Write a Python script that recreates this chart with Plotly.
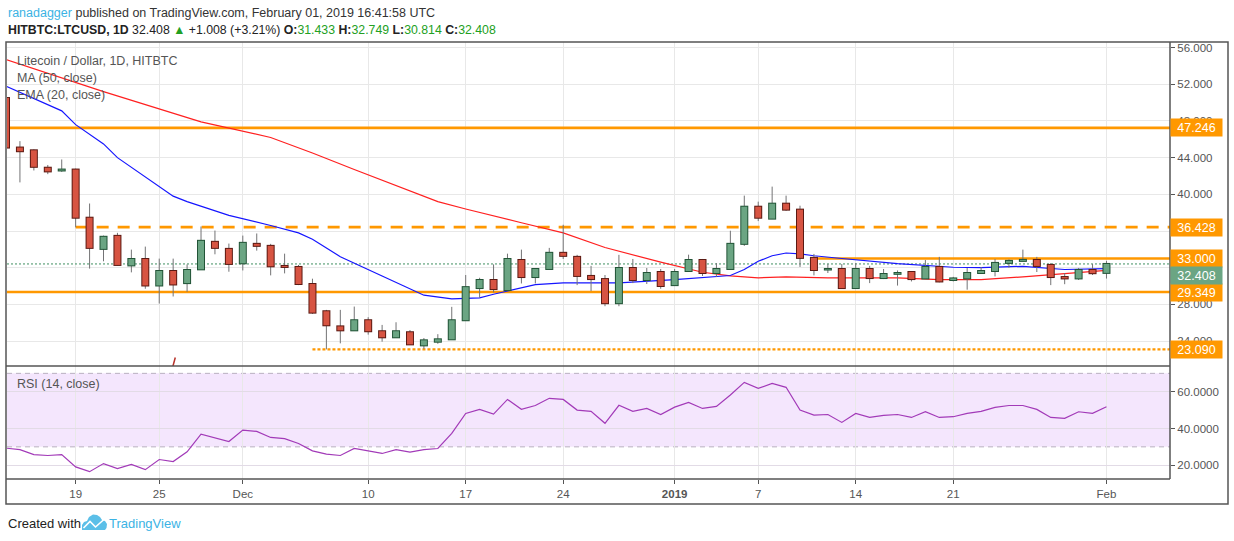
import pandas as pd
import plotly.graph_objects as go
from plotly.subplots import make_subplots

# ---------------- data ----------------
DATES = pd.date_range("2018-11-14", "2019-02-01", freq="D").strftime("%Y-%m-%d").tolist()

OPEN = [50.5, 45.1, 44.8, 42.9, 42.6, 42.7, 37.45, 34.05, 35.47, 32.25,
        32.95, 30.06, 31.64, 30.32, 31.82, 34.82, 34.05, 32.48, 34.6, 34.38,
        32.19, 32.08, 30.22, 27.25, 25.6, 25.17, 26.27, 25.07, 24.41, 24.96,
        23.53, 23.93, 24.19, 26.27, 29.78, 30.66, 29.56, 32.84, 30.98, 31.86,
        33.62, 33.18, 31.1, 30.76, 28.13, 31.97, 30.66, 31.53, 30.1, 31.64,
        32.84, 31.42, 31.86, 34.6, 38.65, 37.35, 38.98, 38.33, 33.07, 31.8,
        31.86, 29.78, 31.86, 30.87, 31.33, 31.53, 30.83, 32.08, 30.66, 30.83,
        31.42, 31.64, 32.52, 32.74, 32.84, 32.3, 30.98, 30.83, 31.75, 31.433]
HIGH = [50.6, 45.8, 44.9, 43.2, 43.8, 42.8, 39.0, 35.5, 35.8, 33.97,
        34.3, 32.99, 32.99, 32.36, 36.49, 36.05, 34.63, 35.5, 35.73, 34.6,
        33.53, 32.3, 30.8, 27.4, 27.4, 27.76, 26.6, 25.76, 26.05, 25.2,
        24.33, 24.75, 27.73, 31.2, 30.9, 32.36, 33.53, 33.97, 31.95, 34.16,
        36.68, 33.4, 32.2, 31.2, 33.4, 32.95, 31.97, 31.86, 31.86, 33.42,
        32.95, 32.5, 36.03, 39.86, 39.2, 40.84, 39.86, 38.76, 33.5, 32.4,
        32.4, 32.5, 32.2, 31.86, 31.7, 31.55, 32.84, 33.18, 31.0, 31.97,
        32.08, 32.95, 32.9, 33.97, 33.18, 32.5, 31.42, 31.97, 32.4, 32.749]
LOW = [44.6, 41.3, 42.6, 42.2, 42.45, 36.4, 31.9, 32.7, 32.25, 31.49,
       29.7, 28.09, 28.86, 29.37, 31.75, 33.46, 31.56, 31.7, 33.86, 31.16,
       31.38, 30.1, 26.96, 23.09, 23.75, 25.1, 24.7, 23.93, 24.35, 23.6,
       23.15, 23.7, 24.15, 26.2, 28.75, 29.3, 29.5, 30.28, 30.28, 31.8,
       32.95, 30.1, 29.45, 27.8, 27.8, 30.32, 30.22, 29.7, 30.0, 31.53,
       31.1, 30.98, 31.8, 34.38, 37.08, 37.3, 38.2, 32.08, 31.16, 31.42,
       29.7, 29.7, 30.32, 30.76, 30.05, 30.5, 30.8, 30.4, 30.5, 29.6,
       31.31, 31.05, 32.0, 32.7, 31.53, 30.1, 30.2, 30.66, 31.2, 30.814]
CLOSE = [45.1, 44.7, 43.0, 42.5, 42.7, 37.45, 34.16, 35.37, 32.3, 32.95,
         30.06, 31.64, 30.17, 31.75, 34.93, 34.16, 32.41, 34.71, 34.38, 32.15,
         32.08, 30.22, 27.1, 25.72, 25.17, 26.27, 25.07, 24.41, 25.07, 23.64,
         24.08, 24.19, 26.27, 29.88, 30.66, 29.67, 32.95, 30.98, 31.86, 33.62,
         33.29, 31.1, 30.76, 28.13, 31.97, 30.66, 31.42, 30.0, 31.53, 32.84,
         31.42, 31.86, 34.6, 38.65, 37.45, 38.98, 38.33, 33.07, 31.75, 31.86,
         29.78, 31.86, 30.87, 31.31, 31.42, 30.76, 32.08, 30.5, 30.83, 31.42,
         31.64, 32.52, 32.74, 32.85, 32.19, 30.98, 30.83, 31.75, 31.40, 32.408]

RSI = [29.3, 28.5, 25.8, 25.3, 25.8, 19.1, 16.5, 20.9, 18.2, 20.4,
       17.6, 23.1, 22.0, 27.3, 36.9, 35.1, 32.9, 39.1, 38.4, 35.1,
       34.5, 31.8, 27.8, 26.0, 25.3, 29.1, 27.6, 26.4, 28.5, 27.1,
       28.5, 29.1, 37.3, 48.2, 50.4, 47.8, 55.8, 50.4, 52.5, 56.4,
       55.8, 50.0, 49.3, 42.8, 52.6, 49.3, 50.9, 47.6, 51.6, 54.2,
       50.9, 52.0, 58.2, 65.1, 61.8, 64.5, 62.4, 50.0, 47.3, 47.6,
       43.3, 48.2, 46.0, 47.1, 47.6, 46.0, 49.1, 46.0, 46.4, 48.2,
       49.3, 51.5, 52.5, 52.5, 50.4, 46.0, 45.5, 49.1, 48.2, 51.8]

MA50_DATES = ["2018-11-14", "2018-11-21", "2018-11-28", "2018-12-03", "2018-12-06",
              "2018-12-09", "2018-12-15", "2018-12-17", "2018-12-21", "2018-12-24",
              "2018-12-27", "2018-12-31", "2019-01-03", "2019-01-05", "2019-01-07",
              "2019-01-09", "2019-01-12", "2019-01-17", "2019-01-20", "2019-01-23",
              "2019-01-26", "2019-01-30", "2019-02-01"]
MA50_VALUES = [54.7, 51.2, 47.9, 46.2, 44.5, 42.7, 39.2, 38.4, 36.9, 35.8,
               34.2, 32.6, 31.5, 31.1, 30.9, 31.0, 30.9, 30.9, 30.7, 30.7,
               31.0, 31.5, 31.7]

EMA20_DATES = ["2018-11-14", "2018-11-18", "2018-11-19", "2018-11-21", "2018-11-22",
               "2018-11-24", "2018-11-26", "2018-11-27", "2018-11-30", "2018-12-03",
               "2018-12-05", "2018-12-06", "2018-12-08", "2018-12-11", "2018-12-14",
               "2018-12-16", "2018-12-18", "2018-12-19", "2018-12-22", "2018-12-24",
               "2018-12-28", "2019-01-01", "2019-01-04", "2019-01-05", "2019-01-06",
               "2019-01-07", "2019-01-08", "2019-01-09", "2019-01-10", "2019-01-11",
               "2019-01-13", "2019-01-17", "2019-01-21", "2019-01-23", "2019-01-26",
               "2019-01-29", "2019-02-01"]
EMA20_VALUES = [51.8, 49.1, 47.6, 45.5, 44.0, 41.9, 39.8, 39.2, 37.7, 36.6,
                35.8, 35.1, 33.2, 31.1, 29.0, 28.6, 28.7, 29.1, 30.15, 30.35,
                30.35, 30.7, 31.0, 31.15, 31.8, 32.7, 33.3, 33.6, 33.5, 33.3,
                33.0, 32.45, 32.05, 32.0, 32.15, 31.8, 31.9]

LEVELS = [47.246, 36.428, 33.000, 29.349, 23.090]
LEVEL_STARTS = [None, "2018-11-19", "2019-01-11", None, "2018-12-06"]
LEVEL_KINDS = ["solid", "dash", "solid", "solid", "dot"]

DRAWING_X = ["2018-11-25 23:20", "2018-11-26 03:40"]
DRAWING_Y = [21.2, 22.2]

PRICE_TICKS = [24, 28, 32, 36, 40, 44, 48, 52, 56]
PRICE_TICK_TEXT = ["24.000", "28.000", "", "", "40.000", "44.000", "48.000", "52.000", "56.000"]
RSI_TICKS = [20, 40, 60]
RSI_TICK_TEXT = ["20.0000", "40.0000", "60.0000"]
RSI_BAND = [30, 70]
X_TICK_DATES = ["2018-11-19", "2018-11-25", "2018-12-01", "2018-12-10", "2018-12-17",
                "2018-12-24", "2019-01-01", "2019-01-07", "2019-01-14", "2019-01-21",
                "2019-02-01"]
X_TICK_TEXT = ["19", "25", "Dec", "10", "17", "24", "<b>2019</b>", "7", "14", "21", "Feb"]

# ---------------- geometry / style ----------------
W, H = 1234, 541
PL, PR, PT, PB = 7, 1170, 42, 479
SPLIT = 366
PX_PER_DAY = 13.93
X0 = pd.Timestamp("2018-11-14") + pd.Timedelta(days=(PL - 6) / PX_PER_DAY)
X1 = pd.Timestamp("2018-11-14") + pd.Timedelta(days=(PR - 6) / PX_PER_DAY)
PRICE_RANGE = [21.28, 56.61]
RSI_RANGE = [12.5, 74.0]
PX_PER_PRICE = (SPLIT - PT) / (PRICE_RANGE[1] - PRICE_RANGE[0])
LAST_LABEL_SHIFT = -12  # TradingView pushes the last-price tag below the 33.000 tag

UP_FILL, UP_LINE = "#6ba583", "#225437"
DN_FILL, DN_LINE = "#d75442", "#5b1a13"
WICK = "#737375"
ORANGE = "#ff9800"
GRID = "#e8e8e8"
FRAME = "#555555"
FONT = "Liberation Sans"
GREEN_TXT = "#22a022"


def px(x):
    return (x - PL) / (PR - PL)


def py(y):
    return (PB - y) / (PB - PT)


split_frac = py(SPLIT)

fig = make_subplots(rows=2, cols=1, shared_xaxes=True, vertical_spacing=0)

xs0 = X0.strftime("%Y-%m-%d %H:%M:%S")
xs1 = X1.strftime("%Y-%m-%d %H:%M:%S")

# horizontal support / resistance levels (drawn under candles)
for lvl, start, kind in zip(LEVELS, LEVEL_STARTS, LEVEL_KINDS):
    dash = {"solid": "solid", "dash": "12px,9px", "dot": "3px,2px"}[kind]
    fig.add_trace(go.Scatter(x=[start or xs0, xs1], y=[lvl, lvl], mode="lines",
                             line=dict(color=ORANGE, width=2.6 if kind != "dot" else 2.2, dash=dash),
                             hoverinfo="skip", showlegend=False), row=1, col=1)

# last price line
fig.add_trace(go.Scatter(x=[xs0, xs1], y=[CLOSE[-1], CLOSE[-1]], mode="lines",
                         line=dict(color="#3f8f60", width=1, dash="2px,2px"),
                         hoverinfo="skip", showlegend=False), row=1, col=1)

# moving averages
fig.add_trace(go.Scatter(x=MA50_DATES, y=MA50_VALUES, mode="lines",
                         line=dict(color="#ff2020", width=1.2), hoverinfo="skip",
                         showlegend=False), row=1, col=1)
fig.add_trace(go.Scatter(x=EMA20_DATES, y=EMA20_VALUES, mode="lines",
                         line=dict(color="#1515ff", width=1.2), hoverinfo="skip",
                         showlegend=False), row=1, col=1)

# drawing remnant
fig.add_trace(go.Scatter(x=DRAWING_X, y=DRAWING_Y, mode="lines",
                         line=dict(color="#b8322a", width=1.5), hoverinfo="skip",
                         showlegend=False), row=1, col=1)

# candles: wicks
wx, wy = [], []
for d, hi, lo in zip(DATES, HIGH, LOW):
    wx += [d, d, None]
    wy += [lo, hi, None]
fig.add_trace(go.Scatter(x=wx, y=wy, mode="lines", line=dict(color=WICK, width=1),
                         hoverinfo="skip", showlegend=False), row=1, col=1)

# candles: bodies as thick segments (border then fill)
edge = 1.0 / PX_PER_PRICE
for up, fill, border in [(True, UP_FILL, UP_LINE), (False, DN_FILL, DN_LINE)]:
    bx, by, fx, fy = [], [], [], []
    for d, o, c in zip(DATES, OPEN, CLOSE):
        if (c >= o) != up:
            continue
        lo, hi = min(o, c), max(o, c)
        bx += [d, d, None]
        by += [lo - edge, hi + edge, None]
        fx += [d, d, None]
        fy += [lo, hi, None]
    fig.add_trace(go.Scatter(x=bx, y=by, mode="lines", line=dict(color=border, width=8),
                             hoverinfo="skip", showlegend=False), row=1, col=1)
    fig.add_trace(go.Scatter(x=fx, y=fy, mode="lines", line=dict(color=fill, width=6),
                             hoverinfo="skip", showlegend=False), row=1, col=1)

# RSI
fig.add_trace(go.Scatter(x=DATES, y=RSI, mode="lines", line=dict(color="#a23ab8", width=1.2),
                         hoverinfo="skip", showlegend=False), row=2, col=1)

# ---------------- axes ----------------
axis_font = dict(family=FONT, size=11.5, color="#555555")
fig.update_xaxes(type="date", range=[xs0, xs1], tickvals=X_TICK_DATES, ticktext=X_TICK_TEXT,
                 showgrid=True, gridcolor=GRID, gridwidth=1, zeroline=False, showline=False,
                 tickfont=axis_font, fixedrange=True)
fig.update_xaxes(showticklabels=False, ticks="", row=1, col=1)
fig.update_xaxes(ticks="outside", ticklen=4, tickcolor=FRAME, row=2, col=1)

fig.update_layout(
    yaxis=dict(domain=[split_frac, 1], range=PRICE_RANGE, side="right", tickvals=PRICE_TICKS,
               ticktext=PRICE_TICK_TEXT, showgrid=True, gridcolor=GRID, zeroline=False,
               ticks="outside", ticklen=4, tickcolor=FRAME, tickfont=axis_font, showline=False,
               fixedrange=True),
    yaxis2=dict(domain=[0, split_frac], range=RSI_RANGE, side="right", tickvals=RSI_TICKS,
                ticktext=RSI_TICK_TEXT, showgrid=True, gridcolor="#e2dbe6", zeroline=False,
                ticks="outside", ticklen=4, tickcolor=FRAME, tickfont=axis_font, showline=False,
                fixedrange=True),
)

shapes = []
# RSI band
shapes.append(dict(type="rect", xref="paper", yref="y2", x0=0, x1=1, y0=RSI_BAND[0], y1=RSI_BAND[1],
                   fillcolor="#f4e6fd", line=dict(width=0), layer="below"))
for v in RSI_BAND:
    shapes.append(dict(type="line", xref="paper", yref="y2", x0=0, x1=1, y0=v, y1=v,
                       line=dict(color="#b9b0c0", width=1, dash="5px,4px"), layer="between"))
# frame
shapes.append(dict(type="rect", xref="paper", yref="paper", x0=px(6), x1=px(1228), y0=py(504), y1=py(PT),
                   line=dict(color=FRAME, width=1.5), layer="above"))
shapes.append(dict(type="line", xref="paper", yref="paper", x0=1, x1=1, y0=0, y1=1,
                   line=dict(color=FRAME, width=1.5), layer="above"))
shapes.append(dict(type="line", xref="paper", yref="paper", x0=px(6), x1=1, y0=0, y1=0,
                   line=dict(color=FRAME, width=1.5), layer="above"))
shapes.append(dict(type="line", xref="paper", yref="paper", x0=px(6), x1=1, y0=split_frac, y1=split_frac,
                   line=dict(color=FRAME, width=1.5), layer="above"))


# TradingView logo (cloud with chart line)
def path_from(points, close=True):
    s = "M " + " L ".join(f"{px(a):.5f},{py(b):.5f}" for a, b in points)
    return s + (" Z" if close else "")


cloud = [(82, 530), (82, 525), (84, 522), (87, 521), (89, 517), (93, 514.5), (97, 515),
         (100, 517), (102, 520), (105, 521), (107, 524), (106.5, 528), (105, 530)]
shapes.append(dict(type="path", xref="paper", yref="paper", path=path_from(cloud),
                   fillcolor="#5bbfe8", line=dict(width=0), layer="above"))
zig = [(83.5, 528), (90, 521.5), (95.5, 527), (104.5, 519)]
shapes.append(dict(type="path", xref="paper", yref="paper", path=path_from(zig, close=False),
                   line=dict(color="white", width=1.6), layer="above"))

annotations = []
# price labels on the right axis
for lvl in LEVELS:
    annotations.append(dict(x=1, xref="paper", y=lvl, yref="y", xanchor="left", yanchor="middle",
                            text=f"{lvl:.3f}", showarrow=False, bgcolor=ORANGE, width=47, height=13,
                            borderpad=2, font=dict(family=FONT, size=12.5, color="white")))
annotations.append(dict(x=1, xref="paper", y=CLOSE[-1], yref="y", xanchor="left", yanchor="middle",
                        yshift=LAST_LABEL_SHIFT,
                        text=f"{CLOSE[-1]:.3f}", showarrow=False, bgcolor=UP_FILL, width=47, height=13,
                        borderpad=2, font=dict(family=FONT, size=12.5, color="white")))

# header
o, h, l, c = OPEN[-1], HIGH[-1], LOW[-1], CLOSE[-1]
chg = c - CLOSE[-2]
pct = chg / CLOSE[-2] * 100
g = lambda t: f"<span style='color:{GREEN_TXT}'>{t}</span>"
annotations.append(dict(x=px(6), xref="paper", y=py(12.5), yref="paper", xanchor="left", yanchor="middle",
                        showarrow=False, font=dict(family=FONT, size=12.5, color="#333333"),
                        text="<span style='color:#3bb3e4'>ranadagger</span> published on TradingView.com, "
                             "February 01, 2019 16:41:58 UTC"))
annotations.append(dict(x=px(6), xref="paper", y=py(29.5), yref="paper", xanchor="left", yanchor="middle",
                        showarrow=False, font=dict(family=FONT, size=12.3, color="#222222"),
                        text=f"<b>HITBTC:LTCUSD, 1D</b> {c:.3f} {g('▲')} +{chg:.3f} (+{pct:.2f}%) "
                             f"<b>O:</b>{g(f'{o:.3f}')} <b>H:</b>{g(f'{h:.3f}')} "
                             f"<b>L:</b>{g(f'{l:.3f}')} <b>C:</b>{g(f'{c:.3f}')}"))
# legends
for txt, yy in [("Litecoin / Dollar, 1D, HITBTC", 60.5), ("MA (50, close)", 77.5), ("EMA (20, close)", 94.5)]:
    annotations.append(dict(x=px(15), xref="paper", y=py(yy), yref="paper", xanchor="left", yanchor="middle",
                            showarrow=False, text=txt, font=dict(family=FONT, size=12.5, color="#555555")))
annotations.append(dict(x=px(15), xref="paper", y=py(384), yref="paper", xanchor="left", yanchor="middle",
                        showarrow=False, text="RSI (14, close)", font=dict(family=FONT, size=12.5, color="#555555")))
# footer
annotations.append(dict(x=px(6), xref="paper", y=py(523), yref="paper", xanchor="left", yanchor="middle",
                        showarrow=False, text="Created with", font=dict(family=FONT, size=13, color="#222222")))
annotations.append(dict(x=px(107), xref="paper", y=py(523), yref="paper", xanchor="left", yanchor="middle",
                        showarrow=False, text="TradingView", font=dict(family=FONT, size=13, color="#3bb3e4")))

fig.update_layout(
    width=W, height=H,
    margin=dict(l=PL, r=W - PR, t=PT, b=H - PB, pad=0),
    paper_bgcolor="white", plot_bgcolor="white",
    showlegend=False, hovermode=False, dragmode=False,
    shapes=shapes, annotations=annotations,
    font=dict(family=FONT),
)

fig.write_html("out.html", config={"displayModeBar": False, "staticPlot": True},
               post_script="document.body.style.margin='0';document.body.style.overflow='hidden';")
